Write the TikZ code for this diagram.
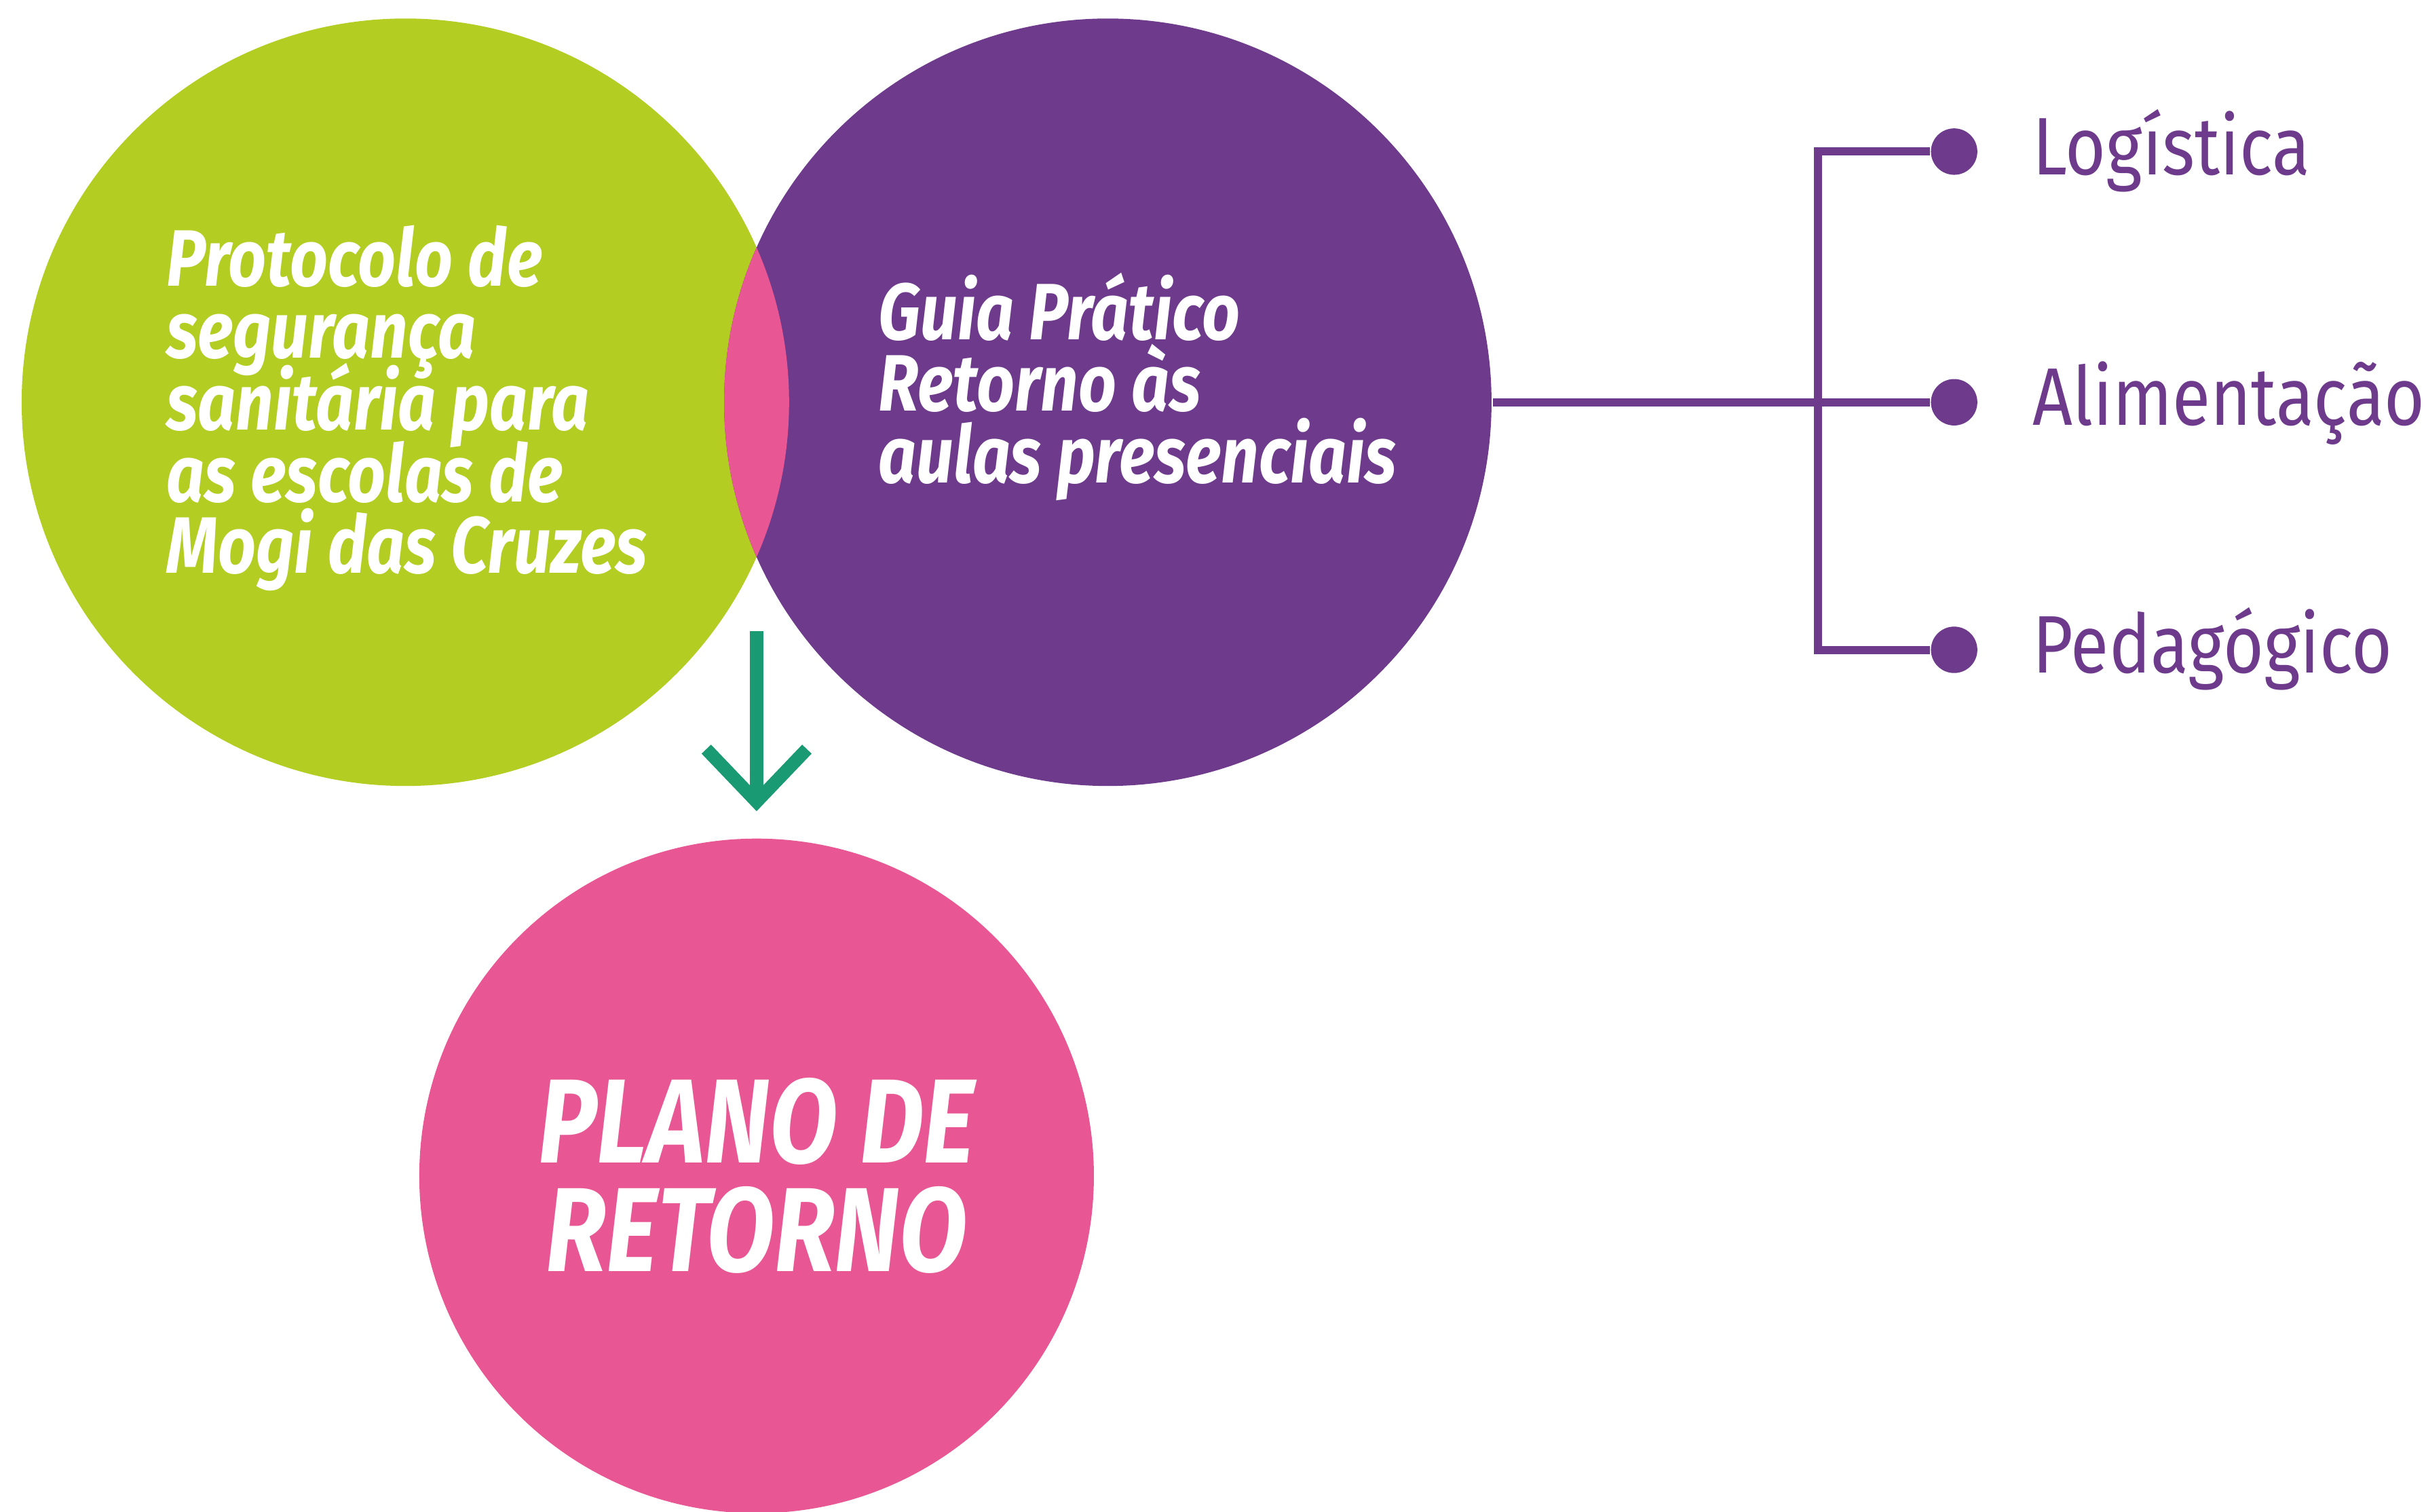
\documentclass[tikz,border=0pt]{standalone}
\usepackage{fontspec}
\setmainfont{Fira Sans}
\newfontfamily\labelfont[FakeStretch=0.855]{Fira Sans}
\newfontfamily\headfont[FakeStretch=0.83]{Fira Sans}
\usepackage{xcolor}
\usetikzlibrary{arrows.meta,positioning,calc}

\definecolor{limegreen}{HTML}{B3CD22}
\definecolor{guiapurple}{HTML}{6D3A8C}
\definecolor{planopink}{HTML}{E95694}
\definecolor{arrowteal}{HTML}{1A9A72}

\newcommand\tightlead{\lineskiplimit=-20pt\relax}

\tikzset{
  bigcircle/.style={circle, minimum size=4.96cm, inner sep=0pt},
  bodytext/.style={text=white, align=left, inner sep=0pt,
    font=\headfont\bfseries\itshape\fontsize{14.7}{13.2}\selectfont\tightlead},
  branch/.style={guiapurple, line width=1.5pt},
  leaf/.style={circle, fill=guiapurple, minimum size=3mm, inner sep=0pt},
  leaftext/.style={text=guiapurple, anchor=base west, inner sep=0pt,
    font=\labelfont\fontsize{15}{18}\selectfont}
}

\begin{document}
\begin{tikzpicture}
\useasboundingbox (0,0) rectangle (15.68,9.77);

% the three circles
\node[bigcircle, fill=limegreen] (protocolo) at (2.62,7.17) {};
\node[bigcircle, fill=guiapurple] (guia) at (7.16,7.17) {};
\begin{scope}
\clip (protocolo.center) circle (2.48);
\fill[planopink] (guia.center) circle (2.48);
\end{scope}
\node[bigcircle, minimum size=4.36cm, fill=planopink, align=center, text=white,
  font=\headfont\bfseries\itshape\fontsize{22}{20}\selectfont\tightlead] (plano) at (4.89,2.17) {PLANO DE\\RETORNO};

% texts
\node[bodytext, anchor=west] (protocolotxt) at (1.07,7.13)
  {Protocolo de\\segurança\\sanitária para\\as escolas de\\Mogi das Cruzes};
\node[bodytext, anchor=west] (guiatxt) at (5.67,7.27)
  {Guia Prático\\Retorno às\\aulas presenciais};

% arrow down
\coordinate (arrowtop) at (4.89,5.69);
\draw[arrowteal, line width=2.4pt, -{Straight Barb[length=3.4mm,width=6.5mm]}]
  (arrowtop) -- ([yshift=1.7mm]plano.north);

% branches
\node[leaf] (logdot) at (12.63,8.79) {};
\node[leaf] (alidot) at (12.63,7.17) {};
\node[leaf] (peddot) at (12.63,5.57) {};
\coordinate (bar) at (11.75,7.17);
\draw[branch] (guia.east) -- (alidot);
\draw[branch] (logdot) -- (logdot -| bar) -- (peddot -| bar) -- (peddot);

\node[leaftext] (logistica) at ([xshift=5mm,yshift=-1.5mm]logdot.center) {Logística};
\node[leaftext] (alimentacao) at ([xshift=5mm,yshift=-1.5mm]alidot.center) {Alimentação};
\node[leaftext] (pedagogico) at ([xshift=5mm,yshift=-1.5mm]peddot.center) {Pedagógico};
\end{tikzpicture}
\end{document}
